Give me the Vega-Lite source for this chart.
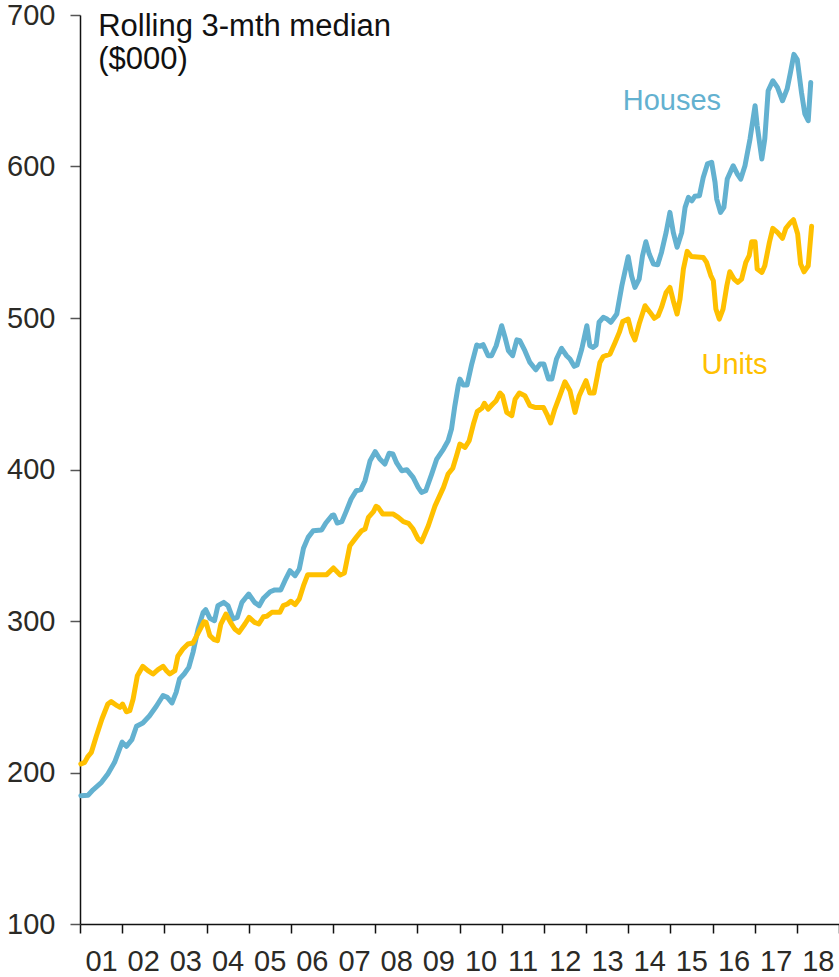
{
  "$schema": "https://vega.github.io/schema/vega-lite/v6.json",
  "autosize": {"type": "none"},
  "padding": {"left": 80, "top": 15, "right": 0, "bottom": 53},
  "width": 759,
  "height": 909,
  "config": {"view": {"stroke": null}, "font": "Liberation Sans"},
  "datasets": {
    "series": [
      {"s":"Houses","t":2001.02,"v":184.7},{"s":"Houses","t":2001.19,"v":185},{"s":"Houses","t":2001.31,"v":188.6},{"s":"Houses","t":2001.51,"v":193.5},{"s":"Houses","t":2001.66,"v":199},{"s":"Houses","t":2001.82,"v":206.7},{"s":"Houses","t":2002.0,"v":220},{"s":"Houses","t":2002.1,"v":217.3},{"s":"Houses","t":2002.23,"v":221.7},{"s":"Houses","t":2002.34,"v":230.5},{"s":"Houses","t":2002.49,"v":232.7},{"s":"Houses","t":2002.65,"v":237.5},{"s":"Houses","t":2002.81,"v":243.7},{"s":"Houses","t":2002.97,"v":250.8},{"s":"Houses","t":2003.07,"v":249.6},{"s":"Houses","t":2003.18,"v":245.9},{"s":"Houses","t":2003.28,"v":252.9},{"s":"Houses","t":2003.36,"v":261.7},{"s":"Houses","t":2003.47,"v":265},{"s":"Houses","t":2003.58,"v":269.4},{"s":"Houses","t":2003.68,"v":279.3},{"s":"Houses","t":2003.8,"v":294.7},{"s":"Houses","t":2003.92,"v":305.7},{"s":"Houses","t":2003.98,"v":307.5},{"s":"Houses","t":2004.08,"v":301.8},{"s":"Houses","t":2004.19,"v":300.2},{"s":"Houses","t":2004.27,"v":310.1},{"s":"Houses","t":2004.41,"v":312.3},{"s":"Houses","t":2004.51,"v":310.1},{"s":"Houses","t":2004.63,"v":301.3},{"s":"Houses","t":2004.73,"v":302.4},{"s":"Houses","t":2004.84,"v":312.3},{"s":"Houses","t":2005.0,"v":317.8},{"s":"Houses","t":2005.14,"v":312.3},{"s":"Houses","t":2005.25,"v":310.1},{"s":"Houses","t":2005.35,"v":315},{"s":"Houses","t":2005.51,"v":319.3},{"s":"Houses","t":2005.62,"v":320.5},{"s":"Houses","t":2005.76,"v":320.5},{"s":"Houses","t":2005.86,"v":326.6},{"s":"Houses","t":2005.98,"v":333.2},{"s":"Houses","t":2006.1,"v":329.9},{"s":"Houses","t":2006.2,"v":334.3},{"s":"Houses","t":2006.3,"v":348},{"s":"Houses","t":2006.41,"v":355.2},{"s":"Houses","t":2006.53,"v":359.6},{"s":"Houses","t":2006.73,"v":360},{"s":"Houses","t":2006.83,"v":364.7},{"s":"Houses","t":2006.97,"v":369.5},{"s":"Houses","t":2007.02,"v":370},{"s":"Houses","t":2007.1,"v":364.7},{"s":"Houses","t":2007.21,"v":365.6},{"s":"Houses","t":2007.31,"v":372.2},{"s":"Houses","t":2007.43,"v":380.5},{"s":"Houses","t":2007.55,"v":386},{"s":"Houses","t":2007.66,"v":386.7},{"s":"Houses","t":2007.76,"v":392.6},{"s":"Houses","t":2007.88,"v":405.8},{"s":"Houses","t":2008.0,"v":411.8},{"s":"Houses","t":2008.11,"v":406.9},{"s":"Houses","t":2008.23,"v":403.6},{"s":"Houses","t":2008.33,"v":410.7},{"s":"Houses","t":2008.42,"v":410.2},{"s":"Houses","t":2008.51,"v":404.3},{"s":"Houses","t":2008.63,"v":399.2},{"s":"Houses","t":2008.75,"v":399.9},{"s":"Houses","t":2008.9,"v":394.8},{"s":"Houses","t":2009.02,"v":388.2},{"s":"Houses","t":2009.1,"v":384.9},{"s":"Houses","t":2009.2,"v":386},{"s":"Houses","t":2009.34,"v":397},{"s":"Houses","t":2009.46,"v":406.9},{"s":"Houses","t":2009.62,"v":413.5},{"s":"Houses","t":2009.73,"v":419},{"s":"Houses","t":2009.81,"v":426.7},{"s":"Houses","t":2009.89,"v":442.1},{"s":"Houses","t":2009.97,"v":455.3},{"s":"Houses","t":2010.01,"v":459.7},{"s":"Houses","t":2010.09,"v":455.8},{"s":"Houses","t":2010.18,"v":455.8},{"s":"Houses","t":2010.29,"v":469.6},{"s":"Houses","t":2010.41,"v":482.2},{"s":"Houses","t":2010.49,"v":481.3},{"s":"Houses","t":2010.56,"v":482.4},{"s":"Houses","t":2010.68,"v":475.1},{"s":"Houses","t":2010.76,"v":475.1},{"s":"Houses","t":2010.87,"v":481.7},{"s":"Houses","t":2011.0,"v":494.9},{"s":"Houses","t":2011.08,"v":487.2},{"s":"Houses","t":2011.16,"v":478.4},{"s":"Houses","t":2011.26,"v":475.1},{"s":"Houses","t":2011.36,"v":485.6},{"s":"Houses","t":2011.43,"v":485},{"s":"Houses","t":2011.55,"v":478.4},{"s":"Houses","t":2011.67,"v":470.7},{"s":"Houses","t":2011.81,"v":465.8},{"s":"Houses","t":2011.91,"v":469.6},{"s":"Houses","t":2012.0,"v":469.6},{"s":"Houses","t":2012.11,"v":459.7},{"s":"Houses","t":2012.19,"v":459.7},{"s":"Houses","t":2012.3,"v":472.9},{"s":"Houses","t":2012.42,"v":480},{"s":"Houses","t":2012.54,"v":475.1},{"s":"Houses","t":2012.62,"v":472.9},{"s":"Houses","t":2012.72,"v":468.1},{"s":"Houses","t":2012.79,"v":469},{"s":"Houses","t":2012.9,"v":479.5},{"s":"Houses","t":2013.02,"v":494.9},{"s":"Houses","t":2013.09,"v":481.7},{"s":"Houses","t":2013.17,"v":480.6},{"s":"Houses","t":2013.24,"v":482.2},{"s":"Houses","t":2013.31,"v":497.2},{"s":"Houses","t":2013.41,"v":500.4},{"s":"Houses","t":2013.5,"v":499.3},{"s":"Houses","t":2013.59,"v":497.2},{"s":"Houses","t":2013.73,"v":502.6},{"s":"Houses","t":2013.85,"v":521.3},{"s":"Houses","t":2014.0,"v":540.4},{"s":"Houses","t":2014.08,"v":527.9},{"s":"Houses","t":2014.16,"v":520.2},{"s":"Houses","t":2014.26,"v":525.7},{"s":"Houses","t":2014.34,"v":541.1},{"s":"Houses","t":2014.42,"v":550.3},{"s":"Houses","t":2014.5,"v":542.2},{"s":"Houses","t":2014.6,"v":535.6},{"s":"Houses","t":2014.7,"v":535.2},{"s":"Houses","t":2014.79,"v":543.3},{"s":"Houses","t":2014.9,"v":556.5},{"s":"Houses","t":2014.99,"v":569.7},{"s":"Houses","t":2015.07,"v":556.5},{"s":"Houses","t":2015.16,"v":546.7},{"s":"Houses","t":2015.27,"v":556.5},{"s":"Houses","t":2015.35,"v":573},{"s":"Houses","t":2015.43,"v":579.6},{"s":"Houses","t":2015.51,"v":577.4},{"s":"Houses","t":2015.58,"v":580.3},{"s":"Houses","t":2015.69,"v":580.7},{"s":"Houses","t":2015.78,"v":592.8},{"s":"Houses","t":2015.88,"v":601.7},{"s":"Houses","t":2015.98,"v":602.8},{"s":"Houses","t":2016.06,"v":589.6},{"s":"Houses","t":2016.1,"v":578.5},{"s":"Houses","t":2016.19,"v":569.7},{"s":"Houses","t":2016.27,"v":573},{"s":"Houses","t":2016.35,"v":591.7},{"s":"Houses","t":2016.49,"v":600.5},{"s":"Houses","t":2016.59,"v":595},{"s":"Houses","t":2016.67,"v":591.7},{"s":"Houses","t":2016.77,"v":600.5},{"s":"Houses","t":2016.89,"v":618.2},{"s":"Houses","t":2017.01,"v":640.1},{"s":"Houses","t":2017.06,"v":626.9},{"s":"Houses","t":2017.17,"v":605},{"s":"Houses","t":2017.24,"v":618.2},{"s":"Houses","t":2017.32,"v":650},{"s":"Houses","t":2017.43,"v":656.6},{"s":"Houses","t":2017.54,"v":652.2},{"s":"Houses","t":2017.66,"v":643.4},{"s":"Houses","t":2017.77,"v":651.2},{"s":"Houses","t":2017.85,"v":662.2},{"s":"Houses","t":2017.93,"v":674},{"s":"Houses","t":2018.01,"v":670.5},{"s":"Houses","t":2018.11,"v":648.9},{"s":"Houses","t":2018.19,"v":634.7},{"s":"Houses","t":2018.27,"v":630.2},{"s":"Houses","t":2018.33,"v":655.5},
      {"s":"Units","t":2001.02,"v":205.6},{"s":"Units","t":2001.11,"v":206.7},{"s":"Units","t":2001.19,"v":210.7},{"s":"Units","t":2001.27,"v":213.3},{"s":"Units","t":2001.39,"v":224.3},{"s":"Units","t":2001.52,"v":235.3},{"s":"Units","t":2001.66,"v":245.2},{"s":"Units","t":2001.74,"v":246.8},{"s":"Units","t":2001.88,"v":244.1},{"s":"Units","t":2001.95,"v":243},{"s":"Units","t":2002.01,"v":245.2},{"s":"Units","t":2002.1,"v":240.1},{"s":"Units","t":2002.18,"v":240.8},{"s":"Units","t":2002.26,"v":248.5},{"s":"Units","t":2002.36,"v":263.9},{"s":"Units","t":2002.49,"v":270.1},{"s":"Units","t":2002.61,"v":267.2},{"s":"Units","t":2002.73,"v":265},{"s":"Units","t":2002.85,"v":267.9},{"s":"Units","t":2002.97,"v":270.1},{"s":"Units","t":2003.05,"v":267.2},{"s":"Units","t":2003.13,"v":265},{"s":"Units","t":2003.25,"v":267.2},{"s":"Units","t":2003.32,"v":276.7},{"s":"Units","t":2003.44,"v":281.5},{"s":"Units","t":2003.56,"v":284.8},{"s":"Units","t":2003.68,"v":285.5},{"s":"Units","t":2003.81,"v":292.5},{"s":"Units","t":2003.94,"v":299.5},{"s":"Units","t":2003.99,"v":299.1},{"s":"Units","t":2004.08,"v":290.3},{"s":"Units","t":2004.18,"v":287.7},{"s":"Units","t":2004.26,"v":287},{"s":"Units","t":2004.34,"v":298},{"s":"Units","t":2004.46,"v":304.6},{"s":"Units","t":2004.57,"v":299.1},{"s":"Units","t":2004.67,"v":294.7},{"s":"Units","t":2004.77,"v":292.5},{"s":"Units","t":2004.91,"v":298},{"s":"Units","t":2005.01,"v":302.4},{"s":"Units","t":2005.14,"v":299.1},{"s":"Units","t":2005.24,"v":298},{"s":"Units","t":2005.35,"v":302.8},{"s":"Units","t":2005.43,"v":303.1},{"s":"Units","t":2005.55,"v":305.7},{"s":"Units","t":2005.74,"v":305.7},{"s":"Units","t":2005.82,"v":310.1},{"s":"Units","t":2005.92,"v":311.2},{"s":"Units","t":2006.0,"v":313},{"s":"Units","t":2006.1,"v":310.8},{"s":"Units","t":2006.2,"v":314.5},{"s":"Units","t":2006.3,"v":323.3},{"s":"Units","t":2006.4,"v":330.6},{"s":"Units","t":2006.61,"v":330.6},{"s":"Units","t":2006.85,"v":330.6},{"s":"Units","t":2007.01,"v":335},{"s":"Units","t":2007.17,"v":330.4},{"s":"Units","t":2007.27,"v":331.7},{"s":"Units","t":2007.4,"v":349.7},{"s":"Units","t":2007.55,"v":355.2},{"s":"Units","t":2007.68,"v":359.6},{"s":"Units","t":2007.76,"v":360.7},{"s":"Units","t":2007.84,"v":368.4},{"s":"Units","t":2007.96,"v":372.2},{"s":"Units","t":2008.02,"v":375.7},{"s":"Units","t":2008.07,"v":375},{"s":"Units","t":2008.18,"v":370.6},{"s":"Units","t":2008.43,"v":370.6},{"s":"Units","t":2008.55,"v":368.4},{"s":"Units","t":2008.67,"v":365.6},{"s":"Units","t":2008.79,"v":364.5},{"s":"Units","t":2008.9,"v":360.7},{"s":"Units","t":2009.02,"v":354.1},{"s":"Units","t":2009.1,"v":352.3},{"s":"Units","t":2009.26,"v":362.9},{"s":"Units","t":2009.42,"v":376},{"s":"Units","t":2009.62,"v":388.2},{"s":"Units","t":2009.73,"v":397},{"s":"Units","t":2009.84,"v":400.8},{"s":"Units","t":2009.93,"v":409.1},{"s":"Units","t":2010.01,"v":416.8},{"s":"Units","t":2010.13,"v":414.6},{"s":"Units","t":2010.23,"v":419},{"s":"Units","t":2010.33,"v":430},{"s":"Units","t":2010.42,"v":438.2},{"s":"Units","t":2010.53,"v":440.4},{"s":"Units","t":2010.59,"v":443.7},{"s":"Units","t":2010.68,"v":439.9},{"s":"Units","t":2010.79,"v":443.2},{"s":"Units","t":2010.87,"v":445.4},{"s":"Units","t":2010.96,"v":450.5},{"s":"Units","t":2011.02,"v":448.7},{"s":"Units","t":2011.12,"v":437.7},{"s":"Units","t":2011.24,"v":435.5},{"s":"Units","t":2011.32,"v":446.5},{"s":"Units","t":2011.42,"v":450.5},{"s":"Units","t":2011.55,"v":448.7},{"s":"Units","t":2011.67,"v":442.1},{"s":"Units","t":2011.79,"v":441},{"s":"Units","t":2011.99,"v":441},{"s":"Units","t":2012.07,"v":436.6},{"s":"Units","t":2012.16,"v":430.7},{"s":"Units","t":2012.26,"v":439.9},{"s":"Units","t":2012.38,"v":448.7},{"s":"Units","t":2012.5,"v":457.9},{"s":"Units","t":2012.62,"v":452},{"s":"Units","t":2012.74,"v":437.7},{"s":"Units","t":2012.84,"v":448.7},{"s":"Units","t":2013.0,"v":458.6},{"s":"Units","t":2013.09,"v":450.5},{"s":"Units","t":2013.19,"v":450.5},{"s":"Units","t":2013.27,"v":461.9},{"s":"Units","t":2013.33,"v":470.7},{"s":"Units","t":2013.41,"v":474.6},{"s":"Units","t":2013.57,"v":476.2},{"s":"Units","t":2013.69,"v":483.9},{"s":"Units","t":2013.79,"v":490.5},{"s":"Units","t":2013.87,"v":497.6},{"s":"Units","t":2014.0,"v":499.3},{"s":"Units","t":2014.08,"v":490.5},{"s":"Units","t":2014.16,"v":485.5},{"s":"Units","t":2014.26,"v":496},{"s":"Units","t":2014.4,"v":508.1},{"s":"Units","t":2014.52,"v":503.7},{"s":"Units","t":2014.62,"v":499.8},{"s":"Units","t":2014.71,"v":501.5},{"s":"Units","t":2014.79,"v":507},{"s":"Units","t":2014.9,"v":516.9},{"s":"Units","t":2014.99,"v":520.2},{"s":"Units","t":2015.07,"v":511.4},{"s":"Units","t":2015.16,"v":502.6},{"s":"Units","t":2015.23,"v":512.5},{"s":"Units","t":2015.31,"v":532.3},{"s":"Units","t":2015.4,"v":544},{"s":"Units","t":2015.5,"v":540.6},{"s":"Units","t":2015.78,"v":540},{"s":"Units","t":2015.86,"v":536.7},{"s":"Units","t":2015.96,"v":528},{"s":"Units","t":2016.02,"v":524.6},{"s":"Units","t":2016.08,"v":505.9},{"s":"Units","t":2016.16,"v":499.3},{"s":"Units","t":2016.25,"v":505.9},{"s":"Units","t":2016.34,"v":521.3},{"s":"Units","t":2016.41,"v":530.5},{"s":"Units","t":2016.51,"v":525.7},{"s":"Units","t":2016.6,"v":523.5},{"s":"Units","t":2016.69,"v":525.7},{"s":"Units","t":2016.79,"v":536.7},{"s":"Units","t":2016.87,"v":541.1},{"s":"Units","t":2016.93,"v":550.4},{"s":"Units","t":2017.01,"v":550.4},{"s":"Units","t":2017.06,"v":532.3},{"s":"Units","t":2017.17,"v":530.1},{"s":"Units","t":2017.24,"v":534.5},{"s":"Units","t":2017.35,"v":550},{"s":"Units","t":2017.43,"v":559.2},{"s":"Units","t":2017.54,"v":556.5},{"s":"Units","t":2017.66,"v":552.6},{"s":"Units","t":2017.74,"v":559.2},{"s":"Units","t":2017.84,"v":562.7},{"s":"Units","t":2017.92,"v":564.9},{"s":"Units","t":2018.02,"v":555.4},{"s":"Units","t":2018.09,"v":535.6},{"s":"Units","t":2018.17,"v":530.5},{"s":"Units","t":2018.27,"v":534.5},{"s":"Units","t":2018.35,"v":560.5}
    ],
    "labels": [
      {"s":"Houses","t":2013.87,"v":637.5,"label":"Houses"},
      {"s":"Units","t":2015.74,"v":463,"label":"Units"}
    ],
    "title": [
      {"t":2001.43,"v":686.1,"label":"Rolling 3-mth median"},
      {"t":2001.43,"v":664.4,"label":"($000)"}
    ]
  },
  "layer": [
    {
      "data": {"name": "series"},
      "mark": {"type": "line", "strokeWidth": 5, "strokeJoin": "round", "strokeCap": "round"},
      "encoding": {
        "x": {
          "field": "t", "type": "quantitative",
          "scale": {"domain": [2001, 2019], "nice": false, "zero": false},
          "axis": {
            "title": null, "values": [2001,2002,2003,2004,2005,2006,2007,2008,2009,2010,2011,2012,2013,2014,2015,2016,2017,2018,2019],
            "labelExpr": "datum.value < 2019 ? format(datum.value % 100, '02d') : ''",
            "labelOffset": 21, "labelFlush": false, "labelOverlap": false,
            "labelFontSize": 29, "labelColor": "#2b2a26", "labelFont": "Liberation Sans",
            "labelBaseline": "alphabetic", "labelPadding": 37,
            "tickSize": 9, "tickColor": "#111111", "tickWidth": 1.5,
            "domainColor": "#111111", "domainWidth": 1.5, "grid": false
          }
        },
        "y": {
          "field": "v", "type": "quantitative",
          "scale": {"domain": [100, 700], "nice": false, "zero": false},
          "axis": {
            "title": null, "values": [100,200,300,400,500,600,700],
            "labelFontSize": 29, "labelColor": "#2b2a26", "labelFont": "Liberation Sans",
            "labelPadding": 15, "tickSize": 10, "tickColor": "#555555", "tickWidth": 1.5,
            "domainColor": "#111111", "domainWidth": 1.5, "grid": false
          }
        },
        "color": {
          "field": "s", "type": "nominal",
          "scale": {"domain": ["Houses", "Units"], "range": ["#63B1D0", "#FFC000"]},
          "legend": null
        }
      }
    },
    {
      "data": {"name": "labels"},
      "mark": {"type": "text", "align": "left", "baseline": "alphabetic", "fontSize": 29, "font": "Liberation Sans"},
      "encoding": {
        "x": {"field": "t", "type": "quantitative"},
        "y": {"field": "v", "type": "quantitative"},
        "text": {"field": "label"},
        "color": {"field": "s", "type": "nominal", "legend": null}
      }
    },
    {
      "data": {"name": "title"},
      "mark": {"type": "text", "align": "left", "baseline": "alphabetic", "fontSize": 31, "font": "Liberation Sans", "color": "#111111"},
      "encoding": {
        "x": {"field": "t", "type": "quantitative"},
        "y": {"field": "v", "type": "quantitative"},
        "text": {"field": "label"}
      }
    }
  ]
}
